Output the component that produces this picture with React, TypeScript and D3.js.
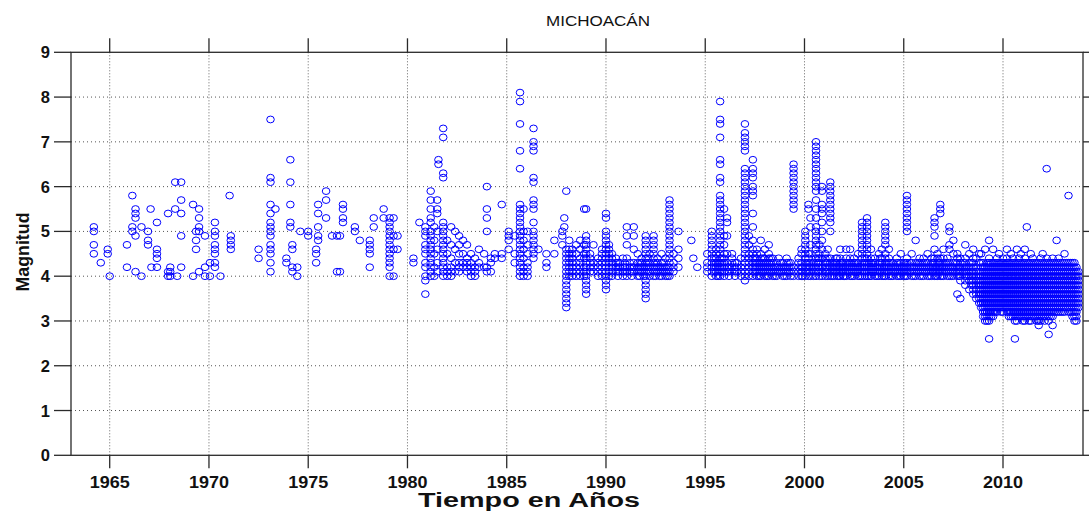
import React from "react";
import * as d3 from "d3";

// Magnitudes are written in tenths; "a-b" lists every tenth from a to b (a stack of circles).
const EVENTS_1963_1972: string[] = [
  "1964.2:51 50 47 45", "1964.55:43", "1964.9:46 45", "1965.0:40",
  "1965.87:47 42", "1966.14:58 51 50", "1966.3:55 54 53 49 41", "1966.6:51 40",
  "1966.93:50 48 47", "1967.06:55", "1967.1:42", "1967.38:52 46 45 44 42",
  "1967.94:54 41 40", "1968.05:42 41 40", "1968.3:61 55", "1968.6:61 57 54 49 42",
  "1968.4:40", "1969.2:56 40", "1969.35:50 48 46", "1969.5:55 53 51 50 41",
  "1969.8:49 42 40", "1970.05:40 43", "1970.3:52 50 49 47 46 45 43 42", "1970.58:40",
  "1971.04:58", "1971.1:49 48 47 46",
];

const EVENTS_1972_1980: string[] = [
  "1972.5:46 44", "1973.1:75 62 61 56 54 52 51 50 49 47 46 45 43 41", "1973.35:55",
  "1973.9:44 43", "1974.1:66 61 56 52 51", "1974.2:47 46 42 41", "1974.45:42 40",
  "1974.6:50", "1975.0:50 49", "1975.4:46 45 43", "1975.5:56 54 51 49 48",
  "1975.9:59 57 53", "1976.2:49", "1976.45:49 41", "1976.6:49 41", "1976.75:56 55 53 52",
  "1977.35:51 50", "1977.6:48", "1978.1:48 47 46 45 42", "1978.3:53 51", "1978.8:55 53",
  "1979.1:53 52 51 50 49 48 47 46 45 44 43 42 40", "1979.3:53 49 46 40", "1979.5:49 46",
];

const EVENTS_1980_1989: string[] = [
  "1980.3:44 43", "1980.6:52", "1980.9:51 50 49 47 46 45 43 42 40 39 36",
  "1981.17:59 57 55 53 52 50 49 48 47 46 45 44 43 42 41 40", "1981.35:51 48 45 42 40",
  "1981.5:57 55 54 50 46 43 41", "1981.56:66 65",
  "1981.8:73 71 63 62 52 51 50 49 48 47 46 45 44 43 42 41 40",
  "1982.0:48 45 42 41 40", "1982.2:51 47 44 42 41 40", "1982.4:50 46 43 41",
  "1982.6:49 47 45 43 42 41", "1982.8:48 45 43 42", "1983.0:47 44 43 42 41",
  "1983.2:45 43 42 41 40", "1983.4:44 42 41 40", "1983.6:46 43 42", "1983.86:45 42",
  "1984.0:60 55 53 50 42 41", "1984.2:44 43 41", "1984.4:45 44", "1984.75:56 45 44",
  "1985.1:50 49 48 46", "1985.4:49 45 43",
  "1985.67:81 79 74 68 64 56 55 54 53 52 51 50 49 48 47 46 45 44 43 42 41 40",
  "1985.85:55 50 48 46 44 42 41 40", "1986.05:50 47 45 43 42 41 40",
  "1986.35:73 70 69 68 62 61 57 56 55 52 50 49 48 47 46 45 44", "1986.6:46",
  "1987.0:45 43 42", "1987.4:48 45", "1987.8:50 49 47", "1987.9:53 51",
  "1988.0:59 33-46", "1988.15:48 40-46", "1988.3:40-46", "1988.5:47 45 43 42 41 40",
  "1988.7:48 46 44 43 42 41 40", "1988.9:55 47 45 44 42 41 40",
];

const EVENTS_1989_1997: string[] = [
  "1989.0:55 36-49", "1989.2:41-45", "1989.37:47 43 42 41", "1989.6:40-44",
  "1989.8:40-46", "1990.0:54 53 37-50", "1990.15:40-47", "1990.3:40-45", "1990.5:41-44",
  "1990.7:41-43", "1990.85:44 42 41 40", "1991.05:51 49 47 44 42 41 40", "1991.2:41-43",
  "1991.4:51 49 46 43 42 41", "1991.6:45 43 42 41 40", "1991.8:41-44", "1992.0:35-49",
  "1992.2:45 43 42 41 40", "1992.4:40-49", "1992.6:41-44", "1992.8:45 43 42 41 40",
  "1993.0:44 42 41 40", "1993.2:40-57", "1993.4:45 43 42 41", "1993.65:50 46 44 42",
  "1994.3:48", "1994.4:44", "1994.6:42", "1995.1:45 43 42 41", "1995.33:40-50",
  "1995.55:40-46", "1995.75:79 75 74 71 66 65 62 61 40-58", "1995.95:55 49 47 40-45",
  "1996.1:53 52 49 45 43 42 41", "1996.35:41-45", "1996.6:41-43", "1996.8:44 42 41 40",
  "1997.0:74 72 71 70 69 68 39-64", "1997.2:49 47 40-45",
  "1997.4:66 64 63 62 60 59 58 54 51 48 40-46",
];

const EVENTS_1997_2006: string[] = [
  "1997.6:40-46", "1997.8:48 40-45", "1998.0:46 40-44", "1998.2:47 40-45", "1998.4:40-44",
  "1998.6:40-43", "1998.7:44 42 41", "1998.9:40-43", "1999.1:40-44", "1999.3:40-43",
  "1999.45:55-65 40-42", "1999.7:40-44", "1999.85:46 45 40-43", "2000.04:40-50",
  "2000.2:56 55 40-45", "2000.3:53 51 47 45 40-43",
  "2000.58:59-70 57 55 53 51 40-50", "2000.75:47 40-45",
  "2000.88:60 59 56 55 54 52 50 48 46 44 42 41 40", "2001.05:40-45", "2001.17:46 40-44",
  "2001.3:52-61 50 40-44", "2001.5:40-43", "2001.65:40-44", "2001.8:46 40-44",
  "2001.95:40-43", "2002.1:46 40-44", "2002.3:46 40-44", "2002.5:40-44",
  "2002.7:45 40-43", "2002.9:40-52", "2003.05:40-44", "2003.15:40-53",
  "2003.35:46 40-44", "2003.55:40-44", "2003.75:45 40-43", "2003.9:46 40-44",
  "2004.07:47-52 40-45", "2004.25:46 40-44", "2004.45:40-43", "2004.65:40-44",
  "2004.85:45 40-43", "2005.0:40-43", "2005.16:50-58 40-44", "2005.4:45 40-43",
  "2005.6:48 40-43", "2005.8:40-44",
];

// extra events filling the dense 4.0–4.4 band between the columns above
const EVENTS_BAND: string[] = [
  "1990.6:40-43", "1990.95:41-43", "1991.3:40-42", "1991.7:40-43", "1991.9:40-42",
  "1992.1:41-44", "1992.5:40-43", "1992.7:40-42", "1992.9:41-43", "1993.1:40-42",
  "1995.45:41-44", "1995.65:40-43", "1995.85:41-44", "1996.2:40-42", "1996.5:40-43",
  "1997.5:41-44", "1997.7:40-43", "1997.9:41-44", "1998.1:40-43", "1998.3:41-44",
  "1998.5:40-42", "1998.8:41-43", "1999.0:40-42", "1999.2:41-43", "1999.9:40-42",
  "2000.12:41-43", "2000.45:40-43", "2000.68:41-44", "2001.1:41-43", "2001.4:40-43",
  "2001.58:41-44", "2001.73:40-42", "2001.88:41-43", "2002.02:40-42", "2002.2:41-43",
  "2002.4:40-43", "2002.6:41-43", "2002.8:40-42", "2003.0:41-43", "2003.25:40-43",
  "2003.45:41-43", "2003.65:40-42", "2003.82:41-44", "2004.0:40-42", "2004.17:41-43",
  "2004.35:40-43", "2004.55:41-42", "2004.75:40-43", "2004.93:41-42", "2005.08:40-43",
  "2005.3:41-43", "2005.5:40-42", "2005.7:41-43", "2005.9:40-43", "2006.1:41-43",
  "2006.3:40-42", "2006.48:41-43", "2006.63:40-42", "2006.77:41-43", "2006.92:40-42",
  "2007.1:41-43", "2007.4:40-42", "2007.6:41-43", "2007.78:40-42", "2008.0:41-43",
  "2008.2:40-42", "2008.4:38-43",
];

const EVENTS_2006_2014: string[] = [
  "2006.0:40-44", "2006.2:45 40-43", "2006.4:40-44", "2006.55:53 52 51 49 46 40-44",
  "2006.7:40-45", "2006.84:56 55 54 40-44", "2007.0:46 40-44", "2007.2:40-44",
  "2007.3:51 50 47 46 40-43", "2007.5:48 45 40-43", "2007.7:40-45 36",
  "2007.85:39-44 35", "2008.1:47 38-44", "2008.3:45 37 39-43", "2008.5:46 36-44",
  "2008.65:35-42 44", "2008.8:34-41 43 45",
  "2008.9:33-43 45", "2009.0:31-43", "2009.1:30-42 46", "2009.2:30-43",
  "2009.3:26 30-44 48", "2009.4:31-43", "2009.5:31-43 46", "2009.6:32-43",
  "2009.7:32-44", "2009.8:33-43 45", "2009.9:32-43", "2010.0:32-44", "2010.1:33-43",
  "2010.2:32-44 46", "2010.3:31-43", "2010.4:31-43 45", "2010.5:31-44",
  "2010.6:26 30-43", "2010.7:30-43 46", "2010.8:31-44", "2010.9:31-43 45",
  "2011.0:30-43", "2011.1:30-44 46", "2011.2:31-43 51", "2011.3:30-43",
  "2011.4:30-43 45", "2011.5:31-44", "2011.6:31-43", "2011.7:30-43", "2011.8:29-43",
  "2011.9:30-44", "2012.0:31-43 45", "2012.1:30-43", "2012.2:31-44 64",
  "2012.3:27 30-43", "2012.4:31-43", "2012.5:29 31-44", "2012.6:32-43",
  "2012.7:32-43 48", "2012.8:32-44", "2012.9:32-43", "2013.0:32-43", "2013.1:32-43 45",
  "2013.2:33-43", "2013.3:32-43 58", "2013.4:32-43", "2013.5:31-43", "2013.6:30-43",
  "2013.7:30-42", "2013.8:33-41",
];

const X_TICKS = [1965, 1970, 1975, 1980, 1985, 1990, 1995, 2000, 2005, 2010];
const Y_TICKS = [0, 1, 2, 3, 4, 5, 6, 7, 8, 9];
const TITLE = "MICHOACÁN";
const X_LABEL = "Tiempo en Años";
const Y_LABEL = "Magnitud";

function parse(entries: string[]): [number, number][] {
  const out: [number, number][] = [];
  for (const e of entries) {
    const [ys, ms] = e.split(":");
    const year = +ys;
    for (const tok of ms.trim().split(/\s+/)) {
      if (tok.includes("-")) {
        const [a, b] = tok.split("-").map(Number);
        for (let m = a; m <= b; m++) out.push([year, m / 10]);
      } else {
        out.push([year, +tok / 10]);
      }
    }
  }
  return out;
}

const ALL = [
  ...parse(EVENTS_1963_1972),
  ...parse(EVENTS_1972_1980),
  ...parse(EVENTS_1980_1989),
  ...parse(EVENTS_1989_1997),
  ...parse(EVENTS_1997_2006),
  ...parse(EVENTS_BAND),
  ...parse(EVENTS_2006_2014),
];

export default function App() {
  const W = 1089, H = 514;
  const left = 71, right = 1083, top = 52.3, bottom = 455.3;
  const x = d3.scaleLinear().domain([1963.05, 2014.03]).range([left, right]);
  const y = d3.scaleLinear().domain([0, 9]).range([bottom, top]);
  const font = "'Liberation Sans', Arial, Helvetica, sans-serif";
  const axisColor = "#2a2a2a";
  const xTickLen = 13;
  const yTickLen = 17;

  return (
    <svg width={W} height={H} style={{ position: "absolute", left: 0, top: 0, background: "#fff" }}>
      <rect x={0} y={0} width={W} height={H} fill="#fff" />
      {/* grid */}
      {Y_TICKS.filter((t) => t > 0 && t < 9).map((t) => (
        <line key={"gy" + t} x1={left} x2={right} y1={y(t)} y2={y(t)} stroke="#555" strokeWidth={1} strokeDasharray="1 3" />
      ))}
      {X_TICKS.map((t) => (
        <line key={"gx" + t} x1={x(t)} x2={x(t)} y1={top} y2={bottom} stroke="#666" strokeWidth={1} strokeDasharray="1 2" />
      ))}
      {/* points */}
      <g fill="none" stroke="#0000ff" strokeWidth={1}>
        {ALL.map((p, i) => (
          <ellipse key={i} cx={x(p[0])} cy={y(p[1])} rx={3.8} ry={3.4} />
        ))}
      </g>
      {/* box */}
      <rect x={left} y={top} width={right - left} height={bottom - top} fill="none" stroke={axisColor} strokeWidth={1.3} />
      {/* ticks */}
      {X_TICKS.map((t) => (
        <g key={"xt" + t}>
          <line x1={x(t)} x2={x(t)} y1={bottom} y2={bottom + xTickLen} stroke={axisColor} strokeWidth={1.3} />
          <line x1={x(t)} x2={x(t)} y1={top} y2={top - xTickLen - 1} stroke={axisColor} strokeWidth={1.3} />
          <text x={x(t)} y={488} textAnchor="middle" fontFamily={font} fontWeight="bold" fontSize={16.5} textLength={40} lengthAdjust="spacingAndGlyphs" fill="#111">
            {t}
          </text>
        </g>
      ))}
      {Y_TICKS.map((t) => (
        <g key={"yt" + t}>
          <line x1={left - yTickLen} x2={left} y1={y(t)} y2={y(t)} stroke={axisColor} strokeWidth={1.3} />
          <line x1={right} x2={right + yTickLen} y1={y(t)} y2={y(t)} stroke={axisColor} strokeWidth={1.3} />
          <text x={50} y={y(t) + 6} textAnchor="end" fontFamily={font} fontWeight="bold" fontSize={16.5} fill="#111">
            {t}
          </text>
        </g>
      ))}
      {/* title & labels */}
      <text x={598} y={26} textAnchor="middle" fontFamily={font} fontSize={14} textLength={104} lengthAdjust="spacingAndGlyphs" fill="#111">
        {TITLE}
      </text>
      <text x={529} y={507} textAnchor="middle" fontFamily={font} fontWeight="bold" fontSize={20} textLength={222} lengthAdjust="spacingAndGlyphs" fill="#111">
        {X_LABEL}
      </text>
      <text transform={`translate(29, 252) rotate(-90)`} textAnchor="middle" fontFamily={font} fontWeight="bold" fontSize={19} textLength={79} lengthAdjust="spacingAndGlyphs" fill="#111">
        {Y_LABEL}
      </text>
    </svg>
  );
}
